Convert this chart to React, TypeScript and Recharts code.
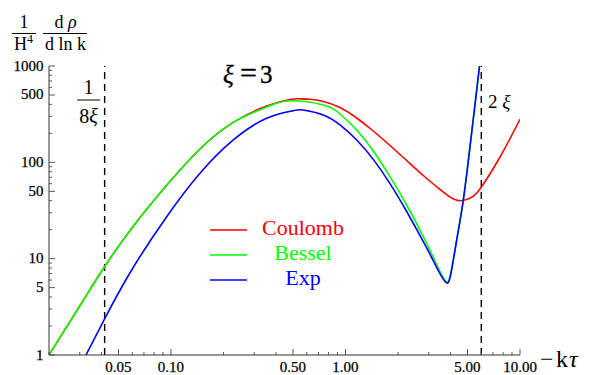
import React from 'react';
import { LineChart, Line, XAxis, YAxis, ReferenceLine, Legend } from 'recharts';

// ---- data ----
const coulombX = [0.02, 0.0304, 0.0418, 0.0608, 0.0945, 0.1466, 0.2275, 0.3534, 0.4809, 0.5484, 0.6259, 0.7461, 0.9299, 1.159, 1.443, 1.799, 2.242, 2.792, 3.479, 3.997, 4.531, 5.19, 5.899, 7.68, 10.0];
const coulombY = [1, 3.34, 8.33, 21.7, 57.8, 137.5, 259.8, 384.6, 449.1, 456.6, 452.3, 428.1, 371.0, 288.6, 211.5, 149.5, 104.5, 73.0, 52.3, 43.2, 39.9, 42.6, 52.9, 113.6, 279.8];

const besselX = [0.02, 0.0304, 0.0418, 0.0608, 0.0945, 0.1466, 0.2275, 0.3534, 0.4809, 0.7461, 0.9299, 1.159, 1.443, 1.799, 2.242, 2.792, 3.198, 3.479, 3.767, 3.997, 4.337, 4.733, 5.17, 5.649, 6.3];
const besselY = [1, 3.34, 8.33, 21.7, 57.8, 137.5, 259.8, 375.0, 435.5, 393.8, 317.6, 216.6, 131.1, 70.96, 36.07, 16.91, 10.16, 7.36, 5.79, 6.77, 15.62, 40.6, 145.3, 563.6, 3000];

const expX = [0.03258, 0.0418, 0.05954, 0.0945, 0.1466, 0.2275, 0.3534, 0.5022, 0.573, 0.7461, 0.9299, 1.159, 1.443, 1.799, 2.242, 2.792, 3.198, 3.479, 3.767, 3.997, 4.337, 4.733, 5.17, 5.649, 6.3];
const expY = [1, 2.404, 7.63, 27.27, 76.93, 170.6, 286.6, 343.6, 349.4, 310.0, 244.2, 170.6, 107.3, 60.17, 30.89, 15.01, 9.39, 7.0, 5.66, 6.69, 15.62, 40.6, 145.3, 563.6, 3000];

const seriesNames = ['Coulomb', 'Bessel', 'Exp'];
const seriesColors = ['#ff0000', '#00ff00', '#0000ff'];

const xTicks = [0.02, 0.03, 0.04, 0.05, 0.06, 0.07, 0.08, 0.09, 0.1, 0.2, 0.3, 0.4, 0.5, 0.6, 0.7, 0.8, 0.9, 1, 2, 3, 4, 5, 6, 7, 8, 9, 10];
const xMajor = [0.05, 0.1, 0.5, 1, 5, 10];
const yTicks = [1, 2, 3, 4, 5, 6, 7, 8, 9, 10, 20, 30, 40, 50, 60, 70, 80, 90, 100, 200, 300, 400, 500, 600, 700, 800, 900, 1000];
const yMajor = [1, 5, 10, 50, 100, 500, 1000];
const markerX = [1 / 24, 6];

const zip = (xs: number[], ys: number[]) => xs.map((x, i) => ({ x, y: ys[i] }));
const seriesData = [zip(coulombX, coulombY), zip(besselX, besselY), zip(expX, expY)];

const FONT = '"Liberation Serif", "Times New Roman", serif';
const isIn = (arr: number[], v: number) => arr.some((m) => Math.abs(m - v) < 1e-9);

function XTick(props: any) {
  const { x, y, payload } = props;
  const v = payload.value;
  const major = isIn(xMajor, v);
  return (
    <g>
      <line x1={x} y1={y} x2={x} y2={y - (major ? 6 : 3)} stroke="#555" strokeWidth={1} />
      {major && (
        <text x={x} y={y + 17} textAnchor="middle" fontSize={15} fontFamily={FONT} fill="#000" stroke="#000" strokeWidth={0.25}>
          {v.toFixed(2)}
        </text>
      )}
    </g>
  );
}

function YTick(props: any) {
  const { x, y, payload } = props;
  const v = payload.value;
  const major = isIn(yMajor, v);
  return (
    <g>
      <line x1={x} y1={y} x2={x + (major ? 6 : 3)} y2={y} stroke="#555" strokeWidth={1} />
      {major && (
        <text x={x - 5.5} y={y + 4.5} textAnchor="end" fontSize={15} fontFamily={FONT} fill="#000" stroke="#000" strokeWidth={0.25}>
          {String(v)}
        </text>
      )}
    </g>
  );
}

function LegendContent(props: any) {
  const payload = [...(props.payload || [])].sort(
    (a: any, b: any) => seriesNames.indexOf(a.value) - seriesNames.indexOf(b.value)
  );
  return (
    <svg width={150} height={80} style={{ overflow: 'visible' }}>
      {payload.map((p: any, i: number) => (
        <g key={i}>
          <line x1={10} y1={20 + 25 * i} x2={47} y2={20 + 25 * i} stroke={p.color} strokeWidth={1.6} />
          <text x={103} y={25 + 25 * i} textAnchor="middle" fontSize={22} fontFamily={FONT} fill={p.color}>
            {p.value}
          </text>
        </g>
      ))}
    </svg>
  );
}

export default function App() {
  return (
    <div style={{ position: 'absolute', left: 0, top: 0, width: 590, height: 375, background: '#fff' }}>
      <LineChart width={590} height={375} margin={{ top: 66, right: 70, bottom: 0, left: 0 }}>
        <XAxis
          dataKey="x"
          type="number"
          scale="log"
          domain={[0.02, 10]}
          ticks={xTicks}
          allowDataOverflow
          height={20}
          tickSize={0}
          tickMargin={0}
          tickLine={false}
          axisLine={{ stroke: '#333', strokeWidth: 1 }}
          tick={<XTick />}
          interval={0}
        />
        <YAxis
          dataKey="y"
          type="number"
          scale="log"
          domain={[1, 1000]}
          ticks={yTicks}
          allowDataOverflow
          width={49}
          tickSize={0}
          tickMargin={0}
          tickLine={false}
          axisLine={{ stroke: '#333', strokeWidth: 1 }}
          tick={<YTick />}
          interval={0}
        />
        {markerX.map((m, i) => (
          <ReferenceLine key={i} x={m} stroke="#000" strokeWidth={1.4} strokeDasharray="7 5" />
        ))}
        {seriesData.map((d, i) => (
          <Line
            key={seriesNames[i]}
            data={d}
            dataKey="y"
            name={seriesNames[i]}
            type="natural"
            stroke={seriesColors[i]}
            strokeWidth={1.6}
            dot={false}
            activeDot={false}
            isAnimationActive={false}
          />
        ))}
        <Legend
          layout="vertical"
          align="center"
          verticalAlign="middle"
          content={<LegendContent />}
          wrapperStyle={{ position: 'absolute', left: 200, top: 210, width: 150, height: 80 }}
        />
      </LineChart>
      <svg
        width={590}
        height={375}
        style={{ position: 'absolute', left: 0, top: 0, pointerEvents: 'none' }}
        fontFamily={FONT}
      >
        {/* y-axis label: 1/H^4 dρ/dln k */}
        <text x={24} y={28} textAnchor="middle" fontSize={18}>1</text>
        <line x1={12} y1={33.5} x2={36} y2={33.5} stroke="#000" strokeWidth={1} />
        <text x={23.5} y={50} textAnchor="middle" fontSize={18}>
          H<tspan fontSize={12} dy={-7}>4</tspan>
        </text>
        <text x={65.5} y={28} textAnchor="middle" fontSize={18}>
          d<tspan fontStyle="italic"> ρ</tspan>
        </text>
        <line x1={43} y1={33.5} x2={87} y2={33.5} stroke="#000" strokeWidth={1} />
        <text x={65.5} y={50} textAnchor="middle" fontSize={18}>d ln k</text>

        {/* 1/(8ξ) */}
        <text x={88.5} y={93.5} textAnchor="middle" fontSize={20}>1</text>
        <line x1={77} y1={100} x2={100} y2={100} stroke="#000" strokeWidth={1} />
        <text x={88.5} y={123} textAnchor="middle" fontSize={20}>
          8<tspan fontStyle="italic">ξ</tspan>
        </text>

        {/* ξ=3 */}
        <text y={83} fontSize={25} stroke="#000" strokeWidth={0.4}>
          <tspan x={223} fontStyle="italic">ξ</tspan>
          <tspan x={240} fontSize={30}>=</tspan>
          <tspan x={260}>3</tspan>
        </text>

        {/* 2 ξ */}
        <text x={488} y={108} fontSize={19}>
          2 <tspan fontStyle="italic">ξ</tspan>
        </text>

        {/* −kτ */}
        <text y={366.5} fontSize={24}>
          <tspan x={540}>−</tspan>
          <tspan x={556}>k</tspan>
          <tspan x={569} fontStyle="italic">τ</tspan>
        </text>
      </svg>
    </div>
  );
}
